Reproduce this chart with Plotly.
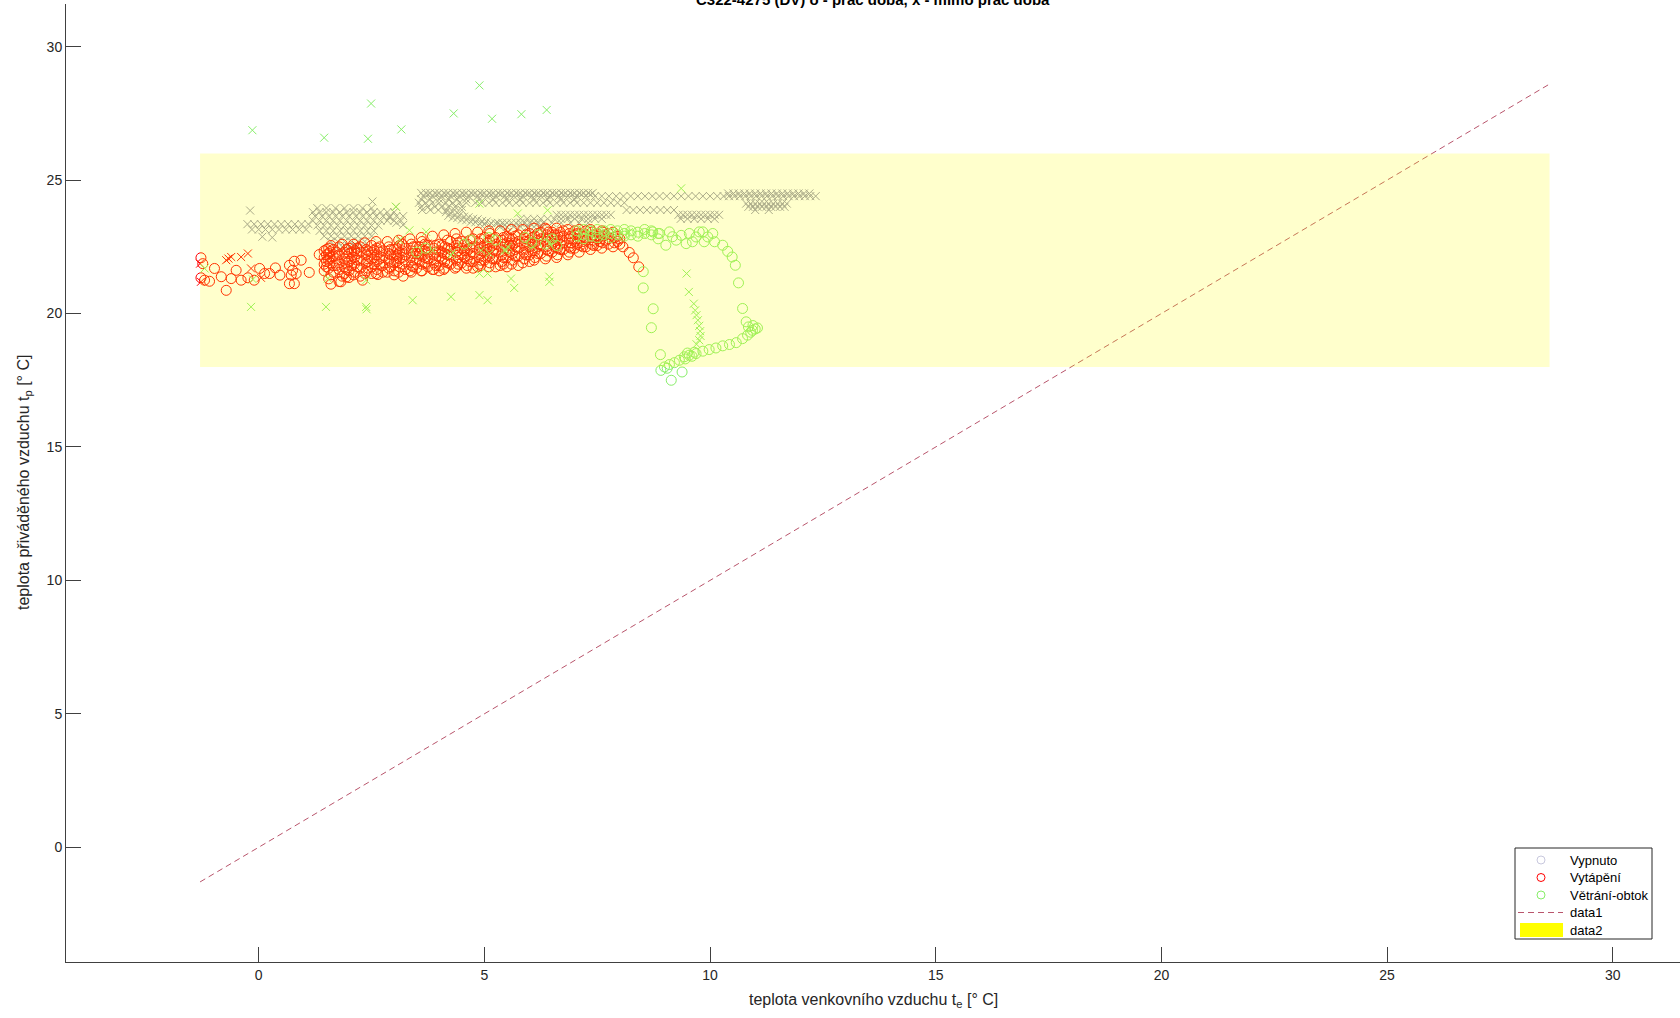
import plotly.graph_objects as go

# ---------------- texts / ticks ----------------
title_text = "C322-4275 (DV) o - prac doba, x - mimo prac doba"
x_label = "teplota venkovního vzduchu t<sub>e</sub> [° C]"
y_label = "teplota přiváděného vzduchu t<sub>p</sub> [° C]"
legend_names = ["Vypnuto", "Vytápění", "Větrání-obtok", "data1", "data2"]
x_ticks = [0, 5, 10, 15, 20, 25, 30]
y_ticks = [0, 5, 10, 15, 20, 25, 30]

# comfort band (data2) and t_p = t_e line (data1)
band_x = [-1.3, 28.6]
band_y = [18.0, 26.0]
diag_x = [-1.3, 28.6]
diag_y = [-1.3, 28.6]

# ---------------- Vypnuto, mimo prac. dobu (x) : rows (y, [x...]) ----------------
vyp_x_rows = [
    (24.52, [3.6, 3.7, 3.8, 3.9, 4.0, 4.1, 4.2, 4.3, 4.4, 4.5, 4.6, 4.7, 4.8, 4.9, 5.0, 5.1, 5.2, 5.3,
             5.4, 5.5, 5.6, 5.7, 5.8, 5.9, 6.0, 6.1, 6.2, 6.3, 6.4, 6.5, 6.6, 6.7, 6.8, 6.9, 7.0, 7.1,
             7.2, 7.3, 7.4]),
    (24.46, [3.75, 3.95, 4.15, 4.35, 4.55, 4.75, 4.95, 5.15, 5.35, 5.55, 5.75, 5.95, 6.15, 6.35,
             6.55, 6.75, 6.95, 7.15, 7.35]),
    (24.4, [3.65, 3.85, 4.05, 4.25, 4.45, 4.65, 4.85, 5.05, 5.25, 5.45, 5.65, 5.85, 6.05, 6.25, 6.45,
            6.65, 6.85, 7.05, 7.25, 7.45, 7.6, 7.76, 7.92, 8.08, 8.24, 8.4, 8.56, 8.72, 8.88, 9.04,
            9.2, 9.36, 9.52, 9.68, 9.84, 10.0, 10.16, 10.3, 10.42, 10.54, 10.66, 10.78, 10.9, 11.02,
            11.14, 11.26, 11.38, 11.5, 11.62, 11.74, 11.86, 11.98, 12.1, 12.22, 12.34]),
    (24.5, [10.4, 10.52, 10.64, 10.76, 10.88, 11.0, 11.12, 11.24, 11.36, 11.48, 11.6, 11.72, 11.84,
            11.96, 12.08, 12.2]),
    (24.28, [3.6, 3.8, 4.0, 4.2, 4.4, 4.6, 4.9, 5.2, 5.5, 5.8, 6.1, 6.4, 6.7, 7.0]),
    (24.15, [3.55, 3.7, 3.85, 4.0, 4.15, 4.3, 4.45, 4.6, 4.8, 4.95, 5.1, 5.25, 5.4, 5.55, 5.7, 5.85,
             6.0, 6.15, 6.3, 6.45, 6.6, 6.75, 6.9, 7.05, 7.2, 7.35, 7.5, 7.65, 7.8, 7.95, 8.1]),
    (24.12, [10.8, 10.9, 11.0, 11.1, 11.2, 11.3, 11.4, 11.5, 11.6, 11.7]),
    (24.0, [3.6, 3.75, 3.9, 4.05, 4.2, 4.35, 4.5, 10.85, 10.95, 11.05, 11.15, 11.25, 11.35, 11.45,
            11.55, 11.65]),
    (23.88, [8.15, 8.3, 8.45, 8.6, 8.75, 8.9, 9.05, 9.2, 3.62, 3.8, 3.98, 4.16, 4.34, 4.5, 11.0, 11.3]),
    (23.7, [6.6, 6.7, 6.8, 6.9, 7.0, 7.1, 7.2, 7.3, 7.4, 7.5, 7.6, 7.7, 7.8, 9.3, 9.4, 9.5, 9.6, 9.7,
            9.8, 9.9, 10.0, 10.1, 10.2]),
    (23.55, [5.8, 5.95, 6.1, 6.25, 6.4, 6.55, 6.7, 6.85, 7.0, 7.15, 7.3, 7.45, 7.6, 9.35, 9.5, 9.65,
             9.8, 9.95, 10.1]),
    (23.4, [5.3, 5.4, 5.5, 5.6, 5.7, 5.8, 5.9, 6.0, 6.1, 6.2, 6.3, 6.5, 6.7, 6.9, 7.1, 7.3]),
    (23.25, [5.35, 5.5, 5.65, 5.8, 5.95, 6.1, 6.25]),
    (23.95, [1.3, 1.5, 1.7, 1.9, 2.1, 2.3, 2.5]),
    (23.8, [1.2, 1.35, 1.5, 1.65, 1.8, 1.95, 2.1, 2.25, 2.4, 2.55, 2.7, 2.85, 3.0]),
    (23.65, [1.25, 1.4, 1.55, 1.7, 1.85, 2.0, 2.15, 2.3, 2.45, 2.6, 2.75, 2.9, 3.05, 3.2]),
    (23.48, [1.2, 1.35, 1.5, 1.65, 1.8, 1.95, 2.1, 2.25, 2.4, 2.55, 2.7, 2.85, 3.0, 3.15]),
    (23.3, [1.3, 1.45, 1.6, 1.75, 1.9, 2.05, 2.2, 2.35, 2.5, 2.65]),
    (23.1, [1.35, 1.5, 1.65, 1.8, 1.95, 2.1, 2.25, 2.4, 2.55]),
    (22.9, [1.45, 1.6, 1.75, 1.9, 2.05, 2.2, 2.35, 2.5]),
    (22.7, [1.6, 1.75, 1.9, 2.05, 2.2, 2.35]),
    (22.5, [1.7, 1.85, 2.0, 2.15, 2.3]),
    (23.35, [-0.25, -0.1, 0.05, 0.2, 0.35, 0.5, 0.65, 0.8, 0.95, 1.1]),
    (23.15, [-0.15, 0.0, 0.15, 0.3, 0.45, 0.6, 0.75, 0.9, 1.05]),
]
vyp_x_pts = [
    (4.15, 23.8), (4.25, 23.77), (4.35, 23.71), (4.45, 23.69), (4.55, 23.63), (4.65, 23.61),
    (4.75, 23.55), (4.85, 23.53), (4.95, 23.47), (5.05, 23.45), (5.15, 23.39), (5.25, 23.38),
    (5.35, 23.33), (5.45, 23.32), (4.2, 23.66), (4.3, 23.6), (4.4, 23.58), (4.5, 23.52),
    (4.6, 23.5), (4.7, 23.44), (4.8, 23.42), (4.9, 23.36), (5.0, 23.34), (5.1, 23.28),
    (2.9, 23.6), (3.05, 23.4), (3.2, 23.32), (-0.19, 23.86), (2.52, 24.2), (3.04, 24.0),
    (0.08, 22.88), (0.3, 22.85),
]

# ---------------- Vytápění, prac. doba (o): columns (x, [y...]) ----------------
vyt_o_cols = [
    (1.45, [21.85, 22.1, 22.35, 21.6]), (1.55, [22.0, 21.7, 22.25, 22.45, 21.3]),
    (1.65, [21.8, 22.15, 21.55, 22.4]), (1.78, [21.9, 22.2, 21.65, 22.5, 21.2]),
    (1.9, [22.05, 21.75, 22.3, 21.5]), (2.0, [21.95, 22.25, 21.6, 22.45, 21.35]),
    (2.12, [21.85, 22.1, 22.35, 21.55]), (2.25, [22.0, 21.7, 22.3, 22.5, 21.4]),
    (2.38, [21.9, 22.2, 21.6, 22.4]), (2.5, [22.05, 21.75, 22.3, 21.5, 22.55]),
    (2.62, [21.95, 22.2, 21.65, 22.45]), (2.75, [22.1, 21.8, 22.35, 21.55]),
    (2.88, [22.0, 21.7, 22.25, 22.5]), (3.0, [21.9, 22.15, 21.6, 22.4, 21.45]),
    (3.12, [22.05, 21.75, 22.3, 22.55]), (3.25, [21.95, 22.2, 21.65, 22.45]),
    (3.38, [22.1, 21.8, 22.35, 21.55, 22.6]), (3.5, [22.0, 21.7, 22.25, 22.5]),
    (3.62, [22.15, 21.85, 22.4, 21.6, 22.7]), (3.75, [22.05, 21.75, 22.3, 22.55]),
    (3.88, [22.2, 21.9, 22.45, 21.65]), (4.0, [22.1, 21.8, 22.35, 22.6, 21.6]),
    (4.12, [22.25, 21.95, 22.5, 21.7]), (4.25, [22.15, 21.85, 22.4, 22.7]),
    (4.38, [22.3, 22.0, 22.55, 21.75, 22.8]), (4.5, [22.2, 21.9, 22.45, 22.7]),
    (4.62, [22.35, 22.05, 22.6, 21.8]), (4.75, [22.25, 21.95, 22.5, 22.8, 21.7]),
    (4.88, [22.4, 22.1, 22.65, 21.85]), (5.0, [22.3, 22.0, 22.55, 22.85]),
    (5.12, [22.45, 22.15, 22.7, 21.9, 23.0]), (5.25, [22.35, 22.05, 22.6, 22.85, 21.75]),
    (5.38, [22.5, 22.2, 22.75, 21.95]), (5.5, [22.4, 22.1, 22.65, 22.9, 21.75]),
    (5.62, [22.55, 22.25, 22.8, 22.0]), (5.75, [22.45, 22.15, 22.7, 22.95, 21.8]),
    (5.88, [22.6, 22.3, 22.85, 22.05]), (6.0, [22.5, 22.2, 22.75, 23.0, 21.95]),
    (6.12, [22.65, 22.35, 22.9, 22.1]), (6.25, [22.55, 22.25, 22.8, 23.05]),
    (6.38, [22.7, 22.4, 22.95, 22.15, 23.15]), (6.5, [22.6, 22.3, 22.85, 23.05]),
    (6.62, [22.75, 22.45, 22.95, 22.2]), (6.75, [22.65, 22.4, 22.9, 23.1]),
    (6.88, [22.8, 22.5, 23.0, 22.3]), (7.0, [22.7, 22.45, 22.95, 23.1]),
    (7.12, [22.8, 22.55, 23.0]), (7.25, [22.75, 22.5, 22.95, 23.1]),
    (7.38, [22.85, 22.6, 23.05]), (7.5, [22.8, 22.55, 23.0]),
    (7.62, [22.9, 22.65, 23.05]), (7.75, [22.8, 22.6, 23.0]),
    (7.88, [22.85, 22.65]), (8.0, [22.8, 22.6]),
]
vyt_o_cols2 = [
    (1.5, [21.95, 22.2, 21.75, 22.4]), (1.72, [22.05, 21.8, 22.3]),
    (1.95, [21.9, 22.15, 21.65, 22.4]), (2.18, [22.0, 21.75, 22.25, 22.45]),
    (2.42, [21.95, 22.15, 21.7, 22.35]), (2.68, [22.05, 21.85, 22.3, 22.5]),
    (2.92, [21.95, 22.2, 21.75, 22.4]), (3.18, [22.1, 21.85, 22.35, 22.6]),
    (3.42, [22.0, 22.25, 21.75, 22.5]), (3.68, [22.1, 21.9, 22.35, 22.6]),
    (3.92, [22.05, 22.3, 21.8, 22.55]), (4.18, [22.2, 21.9, 22.45, 22.75]),
    (4.42, [22.1, 22.35, 21.85, 22.65]), (4.68, [22.2, 22.45, 21.95, 22.75]),
    (4.92, [22.25, 22.5, 22.0, 22.8, 21.8]), (5.18, [22.3, 22.55, 22.05, 22.8]),
    (5.42, [22.35, 22.6, 22.1, 22.85, 21.85]), (5.68, [22.4, 22.65, 22.15, 22.9]),
    (5.92, [22.45, 22.7, 22.2, 22.95]), (6.18, [22.5, 22.75, 22.25, 23.0]),
    (6.42, [22.55, 22.8, 22.35, 23.05]), (6.68, [22.6, 22.85, 22.4, 23.05]),
    (6.92, [22.65, 22.9, 22.45]), (7.18, [22.7, 22.9, 22.5]),
    (7.42, [22.75, 22.95, 22.55]), (7.68, [22.75, 22.95]), (7.95, [22.7, 22.9]),
]
vyt_o_cols3 = [
    (1.6, [22.55, 21.45]), (1.85, [22.6, 21.4]), (2.1, [22.6, 21.45]), (2.35, [22.65, 21.5]),
    (2.6, [22.7, 21.5]), (2.85, [22.7, 21.55]), (3.1, [22.75, 21.55]), (3.35, [22.8, 21.6]),
    (3.6, [22.85, 21.6]), (3.85, [22.9, 21.65]), (4.1, [22.95, 21.65]), (4.35, [23.0, 21.7]),
    (4.6, [23.05, 21.7]), (4.85, [23.05, 21.75]), (5.1, [23.1, 21.75]), (5.35, [23.1, 21.8]),
    (5.6, [23.15, 21.85]), (5.85, [23.15, 21.9]), (6.1, [23.2, 22.0]), (6.35, [23.2, 22.05]),
    (6.6, [23.2, 22.1]), (6.85, [23.15, 22.2]), (7.1, [23.15, 22.3]), (7.35, [23.15, 22.4]),
    (7.6, [23.1, 22.45]), (7.85, [23.05, 22.5]),
    (1.58, [21.9, 22.12, 22.32]), (2.06, [21.8, 22.05, 22.3]), (2.56, [21.85, 22.1, 22.38]),
    (3.06, [21.95, 22.2, 22.45]), (3.56, [22.0, 22.25, 22.5]), (4.06, [22.05, 22.3, 22.55]),
    (4.56, [22.1, 22.35, 22.6]), (5.06, [22.15, 22.4, 22.65]), (5.56, [22.3, 22.55, 22.8]),
    (6.06, [22.35, 22.6, 22.85]), (6.56, [22.5, 22.7, 22.95]), (7.06, [22.6, 22.8, 23.0]),
    (7.56, [22.7, 22.9]),
]
vyt_o_pts = [
    (-1.28, 22.09), (-1.24, 21.87), (-1.28, 21.34), (-1.2, 21.25), (-1.09, 21.21), (-0.98, 21.69),
    (-0.83, 21.38), (-0.72, 20.87), (-0.61, 21.31), (-0.5, 21.62), (-0.39, 21.25), (-0.24, 21.34),
    (-0.1, 21.25), (0.02, 21.69), (0.13, 21.5), (0.24, 21.5), (0.37, 21.71), (0.47, 21.44),
    (0.68, 21.81), (0.72, 21.44), (0.68, 21.12), (0.79, 21.12), (0.79, 21.96), (0.94, 22.0),
    (0.83, 21.5), (1.12, 21.54), (1.34, 22.21), (0.75, 21.62),
    (1.82, 21.19), (1.94, 21.37), (2.64, 21.46), (2.3, 21.25), (3.2, 21.4), (1.6, 21.1),
    (8.07, 22.5), (8.21, 22.29), (8.3, 22.09), (8.42, 21.75),
]
# ---------------- Vytápění, mimo prac. dobu (x) ----------------
vyt_x_pts = [
    (-0.72, 22.0), (-0.61, 22.12), (-0.39, 22.12), (-0.24, 22.25), (-0.17, 21.69), (0.05, 21.34),
    (-1.28, 21.19), (-1.3, 21.87), (-0.67, 22.06), (2.16, 22.56), (3.15, 22.75), (3.74, 22.62),
    (5.52, 23.06), (4.3, 22.5),
]

# ---------------- Větrání-obtok, prac. doba (o) ----------------
vet_o_cols = [
    (7.05, [22.9, 23.1]), (7.2, [22.95, 23.15, 22.8]), (7.35, [22.9, 23.1]),
    (7.5, [23.0, 22.85, 23.15]), (7.65, [22.95, 23.1]), (7.8, [23.0, 22.85, 23.15]),
    (7.95, [22.95, 23.1]), (8.1, [23.0, 22.9, 23.15]), (8.25, [22.95, 23.1]),
    (8.4, [23.05, 22.9]), (8.55, [23.0, 23.15]), (8.7, [22.95, 23.1]), (8.85, [23.0, 22.8]),
]
vet_o_pts = [
    (4.55, 22.6), (4.7, 22.75), (5.1, 22.85), (5.25, 22.75), (5.9, 22.85), (6.05, 22.65),
    (6.2, 22.95), (6.35, 22.6), (6.5, 22.8), (6.6, 22.55), (3.7, 22.45), (3.5, 22.3),
    (9.02, 22.56), (9.17, 22.88), (9.36, 22.93), (9.47, 22.62), (9.54, 23.0), (9.69, 22.87),
    (9.84, 23.06), (9.95, 22.87), (10.06, 23.0), (10.1, 22.69), (8.88, 23.0), (8.73, 23.06),
    (9.1, 23.06), (9.25, 22.75), (9.61, 22.69), (9.76, 23.06), (9.87, 22.69),
    (10.28, 22.56), (10.39, 22.33), (10.49, 22.12), (10.56, 21.81), (10.63, 21.15),
    (10.72, 20.19), (10.8, 19.69),
    (8.52, 21.57), (8.52, 20.96), (8.74, 20.18), (8.7, 19.47), (8.9, 18.46), (8.91, 17.87),
    (9.14, 17.5), (9.38, 17.81),
    (8.99, 18.0), (9.1, 18.09), (9.21, 18.16), (9.32, 18.25), (9.43, 18.38), (9.54, 18.44),
    (9.69, 18.5), (9.84, 18.59), (9.98, 18.65), (10.13, 18.71), (10.28, 18.79), (10.43, 18.84),
    (10.58, 18.91), (10.72, 19.06), (10.83, 19.19), (10.94, 19.37), (11.05, 19.46),
    (10.95, 19.55), (11.0, 19.42), (10.9, 19.3), (10.85, 19.5), (9.5, 18.52), (9.6, 18.4),
    (9.65, 18.55), (9.45, 18.3), (9.05, 17.95),
]
# ---------------- Větrání-obtok, mimo prac. dobu (x) ----------------
vet_x_pts = [
    (-0.14, 26.87), (1.45, 26.59), (2.42, 26.55), (2.49, 27.87), (3.16, 26.9), (4.32, 27.5),
    (4.89, 28.55), (5.17, 27.3), (5.82, 27.47), (6.38, 27.63),
    (-0.17, 20.25), (1.49, 20.25), (2.38, 20.25), (2.39, 20.16), (3.41, 20.5), (4.26, 20.63),
    (4.89, 20.69), (5.07, 20.5), (5.66, 20.96), (5.59, 21.31), (6.44, 21.38), (6.44, 21.19),
    (4.89, 21.5), (5.07, 21.5), (1.53, 21.31), (2.38, 21.25), (-0.13, 21.28), (-1.2, 21.69),
    (3.04, 24.0), (4.89, 24.12), (5.74, 23.75), (6.4, 23.87), (3.34, 23.12), (3.71, 23.06),
    (3.12, 22.75), (3.86, 22.37), (4.26, 22.19), (4.93, 22.37), (5.11, 22.25), (5.44, 22.37),
    (5.52, 22.5), (6.07, 22.5), (6.44, 22.62), (6.51, 22.81), (5.48, 22.37), (4.3, 22.29),
    (9.36, 24.69),
    (9.48, 21.5), (9.53, 20.81), (9.64, 20.37), (9.67, 20.12), (9.7, 19.94), (9.73, 19.75),
    (9.76, 19.54), (9.78, 19.34), (9.79, 19.16), (9.76, 19.0), (9.7, 18.85),
    (7.3, 23.0), (7.7, 22.95), (8.2, 23.05), (8.5, 22.95),
]


def rows_to_xy(rows):
    xs, ys = [], []
    for yv, xl in rows:
        for xv in xl:
            xs.append(xv)
            ys.append(yv)
    return xs, ys


def cols_to_xy(cols):
    xs, ys = [], []
    for xv, yl in cols:
        for yv in yl:
            xs.append(xv)
            ys.append(yv)
    return xs, ys


def pts_to_xy(pts):
    return [p[0] for p in pts], [p[1] for p in pts]


GRAY = "rgb(150,150,172)"
GRAY_LEG = "rgb(200,200,222)"
RED = "rgb(255,0,0)"
GREEN = "rgb(135,238,105)"
DIAG = "rgb(185,85,108)"
FONT = "Liberation Sans, Arial"

vyp_xx, vyp_xy = rows_to_xy(vyp_x_rows)
px, py = pts_to_xy(vyp_x_pts)
vyp_xx += px
vyp_xy += py

vyt_ox, vyt_oy = [], []
for cols in (vyt_o_cols, vyt_o_cols2, vyt_o_cols3):
    px, py = cols_to_xy(cols)
    vyt_ox += px
    vyt_oy += py
px, py = pts_to_xy(vyt_o_pts)
vyt_ox += px
vyt_oy += py
vyt_xx, vyt_xy = pts_to_xy(vyt_x_pts)

vet_ox, vet_oy = cols_to_xy(vet_o_cols)
px, py = pts_to_xy(vet_o_pts)
vet_ox += px
vet_oy += py
vet_xx, vet_xy = pts_to_xy(vet_x_pts)

fig = go.Figure()

xmark = dict(symbol="x-thin", size=8)
omark = dict(symbol="circle-open", size=10, line=dict(width=1))

fig.add_trace(go.Scatter(x=vyp_xx, y=vyp_xy, mode="markers", name=legend_names[0], hoverinfo="skip",
                         marker=dict(xmark, color=GRAY, line=dict(width=1, color=GRAY))))
fig.add_trace(go.Scatter(x=vyt_ox, y=vyt_oy, mode="markers", name=legend_names[1],
                         marker=dict(omark, color=RED)))
fig.add_trace(go.Scatter(x=vyt_xx, y=vyt_xy, mode="markers", name=legend_names[1],
                         marker=dict(xmark, color=RED, line=dict(width=1, color=RED))))
fig.add_trace(go.Scatter(x=vet_ox, y=vet_oy, mode="markers", name=legend_names[2],
                         marker=dict(omark, color=GREEN)))
fig.add_trace(go.Scatter(x=vet_xx, y=vet_xy, mode="markers", name=legend_names[2],
                         marker=dict(xmark, color=GREEN, line=dict(width=1, color=GREEN))))
fig.add_trace(go.Scatter(x=diag_x, y=diag_y, mode="lines", name=legend_names[3],
                         line=dict(color=DIAG, width=1, dash="6px,4px")))
fig.add_trace(go.Scatter(x=[band_x[0], band_x[1], band_x[1], band_x[0], band_x[0]],
                         y=[band_y[0], band_y[0], band_y[1], band_y[1], band_y[0]],
                         mode="none", fill="toself", fillcolor="rgba(255,255,0,0.2)",
                         name=legend_names[4], hoverinfo="skip"))

# ---------------- layout geometry (pixels) ----------------
W, H = 1680, 1018
ML, MR, MT, MB = 66, 0, 4, 56
PW, PH = W - ML - MR, H - MT - MB


def pxx(v):
    return (v - ML) / PW


def pxy(v):
    return (H - MB - v) / PH


# manual legend (MATLAB style)
leg_box = (1515, 848, 1652, 939)
leg_rows = [860, 877.5, 895, 912.5, 930]
sym_cx, txt_x = 1541, 1568
shapes = [
    dict(type="rect", xref="paper", yref="paper", x0=pxx(leg_box[0]), x1=pxx(leg_box[2]),
         y0=pxy(leg_box[3]), y1=pxy(leg_box[1]), fillcolor="white",
         line=dict(color="#262626", width=1), layer="above"),
]
leg_colors = [GRAY_LEG, RED, GREEN]
for i, c in enumerate(leg_colors):
    cy = leg_rows[i]
    shapes.append(dict(type="circle", xref="paper", yref="paper", x0=pxx(sym_cx - 4), x1=pxx(sym_cx + 4),
                       y0=pxy(cy + 4), y1=pxy(cy - 4), line=dict(color=c, width=1), layer="above"))
shapes.append(dict(type="line", xref="paper", yref="paper", x0=pxx(1518), x1=pxx(1563),
                   y0=pxy(leg_rows[3]), y1=pxy(leg_rows[3]),
                   line=dict(color=DIAG, width=1, dash="6px,4px"), layer="above"))
shapes.append(dict(type="rect", xref="paper", yref="paper", x0=pxx(1520), x1=pxx(1563),
                   y0=pxy(leg_rows[4] + 7), y1=pxy(leg_rows[4] - 7), fillcolor="rgb(255,255,0)",
                   line=dict(width=0), layer="above"))

annotations = [
    dict(text="<b>" + title_text + "</b>", xref="paper", yref="paper", x=0.5, y=1,
         xanchor="center", yanchor="bottom", yshift=-6, showarrow=False,
         font=dict(family=FONT, size=15, color="#000")),
    dict(text=x_label, xref="paper", yref="paper", x=0.5, y=-0.04, xanchor="center",
         yanchor="middle", showarrow=False, font=dict(family=FONT, size=16, color="#262626")),
    dict(text=y_label, xref="paper", yref="paper", x=-0.026, y=0.5, xanchor="center",
         yanchor="middle", textangle=-90, showarrow=False,
         font=dict(family=FONT, size=16, color="#262626")),
]
for i, name in enumerate(legend_names):
    annotations.append(dict(text=name, xref="paper", yref="paper", x=pxx(txt_x), y=pxy(leg_rows[i]),
                            xanchor="left", yanchor="middle", showarrow=False,
                            font=dict(family=FONT, size=13, color="#000")))

axis_common = dict(showline=True, linecolor="#404040", linewidth=1, ticks="inside", ticklen=15,
                   tickcolor="#404040", tickwidth=1, showgrid=False, zeroline=False,
                   tickfont=dict(family=FONT, size=14, color="#262626"))

fig.update_layout(
    width=W, height=H,
    margin=dict(l=ML, r=MR, t=MT, b=MB),
    plot_bgcolor="white", paper_bgcolor="white",
    xaxis=dict(axis_common, range=[-4.27, 31.49], tickvals=x_ticks),
    yaxis=dict(axis_common, range=[-4.3, 31.6], tickvals=y_ticks),
    showlegend=False,
    shapes=shapes,
    annotations=annotations,
)

fig.write_html("out.html", config={"displayModeBar": False},
               post_script="document.body.style.margin='0';")
